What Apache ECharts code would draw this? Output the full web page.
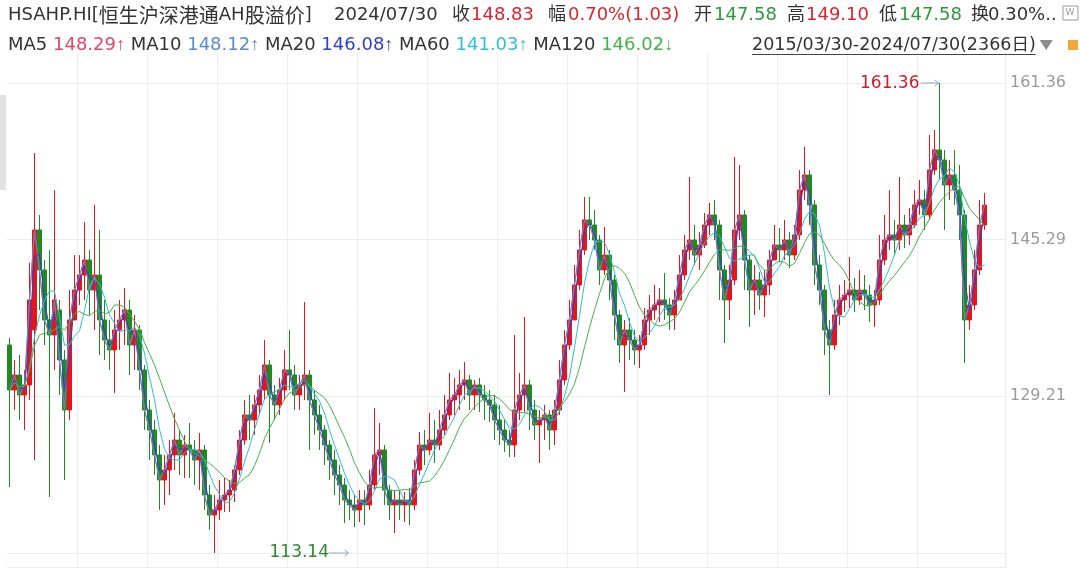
<!DOCTYPE html>
<html><head><meta charset="utf-8">
<script src="https://cdn.jsdelivr.net/npm/echarts@6/dist/echarts.min.js"></script>
<style>html,body{margin:0;padding:0;background:#fff}#c{width:1080px;height:568px}</style>
</head><body><div id="c"></div><script>
// Each candle summarises ~12 trading days of the 2366-day period
const opens = [134.48,129.86,131.40,129.35,130.38,136.02,146.28,142.18,137.05,135.51,138.07,132.94,127.81,137.05,140.12,141.66,143.20,140.12,141.66,137.05,134.99,133.97,136.02,137.05,138.07,134.48,136.02,131.92,127.81,125.76,123.20,120.63,121.66,123.20,124.73,123.20,124.22,123.71,122.68,123.71,119.09,117.04,117.55,118.58,119.09,119.60,121.66,124.73,127.30,126.79,128.33,129.86,132.43,129.35,128.33,129.86,131.92,131.40,129.35,130.38,131.40,128.84,127.30,125.76,124.22,122.68,121.14,120.12,118.58,118.07,117.55,118.58,118.07,120.12,123.20,123.71,119.60,118.07,118.58,118.07,118.58,118.07,121.66,124.22,123.71,124.73,124.22,125.76,127.30,128.84,129.35,130.38,130.89,129.35,130.38,129.35,128.84,128.33,126.79,125.76,124.73,124.22,127.81,129.35,130.38,127.81,126.27,126.79,127.30,125.76,127.81,130.89,134.48,137.05,140.64,144.23,147.31,146.79,145.25,142.18,143.71,141.15,137.56,134.48,136.02,134.99,133.97,134.48,137.05,138.07,138.59,139.10,138.59,137.56,139.10,141.66,144.23,145.25,143.71,144.74,146.79,147.82,146.79,142.18,139.10,141.15,146.28,147.82,143.20,140.12,141.15,139.61,140.64,143.20,144.74,144.23,145.25,143.71,145.77,150.38,151.92,148.85,142.69,140.12,136.02,134.48,137.56,139.10,139.61,140.12,139.10,140.12,139.61,138.59,139.10,143.20,145.25,145.77,145.25,146.79,145.77,146.79,148.85,149.36,147.82,152.44,154.49,153.46,150.90,151.92,150.38,147.82,137.05,138.59,142.18,146.79];
const closes = [129.86,131.40,129.35,130.38,139.10,146.28,142.18,137.05,135.51,139.10,132.94,127.81,137.05,140.12,141.66,143.20,140.12,141.66,137.05,134.99,133.97,136.02,137.05,138.07,134.48,136.02,131.92,127.81,125.76,123.20,120.63,121.66,123.20,124.73,123.20,124.22,123.71,122.68,123.71,119.09,117.04,117.55,118.58,119.09,119.60,121.66,124.73,127.30,126.79,128.33,129.86,132.43,129.35,128.33,129.86,131.92,131.40,129.35,130.38,131.40,128.84,127.30,125.76,124.22,122.68,121.14,120.12,118.58,118.07,117.55,118.58,118.07,120.12,123.20,123.71,119.60,118.07,118.58,118.07,118.58,118.07,121.66,124.22,123.71,124.73,124.22,125.76,127.30,128.84,129.35,130.38,130.89,129.35,130.38,129.35,128.84,128.33,126.79,125.76,124.73,124.22,127.81,129.35,130.38,127.81,126.27,126.79,127.30,125.76,127.81,130.89,134.48,137.05,140.64,144.23,147.31,146.79,145.25,142.18,143.71,141.15,137.56,134.48,136.02,134.99,133.97,134.48,137.05,138.07,138.59,139.10,138.59,137.56,139.10,141.66,144.23,145.25,143.71,144.74,146.79,147.82,146.79,142.18,139.10,141.15,146.28,147.82,143.20,140.12,141.15,139.61,140.64,143.20,144.74,144.23,145.25,143.71,145.77,150.38,151.92,148.85,142.69,140.12,136.02,134.48,137.56,139.10,139.61,140.12,139.10,140.12,139.61,138.59,139.10,143.20,145.25,145.77,145.25,146.79,145.77,146.79,148.85,149.36,147.82,152.44,154.49,153.46,150.90,151.92,150.38,147.82,137.05,138.59,142.18,146.79,148.83];
const lows = [119.91,127.81,126.79,125.76,128.84,122.68,138.07,134.48,118.89,131.92,129.35,120.63,126.79,137.05,138.59,139.10,137.56,136.02,133.46,132.94,131.92,129.56,133.97,134.48,131.40,131.92,129.86,125.76,122.68,121.14,117.55,118.07,119.09,121.66,121.14,120.84,120.84,120.12,119.60,117.55,115.50,113.14,116.53,117.35,117.35,118.37,121.14,124.22,124.73,125.25,127.30,128.84,124.43,126.79,127.30,128.84,129.86,127.81,127.81,128.84,123.71,125.25,123.71,122.17,120.63,119.09,118.07,116.22,116.53,115.81,116.32,116.01,117.55,119.60,121.14,118.07,116.53,115.19,116.53,116.32,116.01,117.55,121.14,122.17,123.20,122.38,123.71,125.25,126.79,127.30,127.81,128.84,127.81,127.81,127.61,126.79,126.58,124.73,124.22,123.50,122.99,122.99,126.79,127.61,125.76,124.73,122.38,124.73,123.71,124.22,127.30,130.38,133.97,137.05,140.12,143.71,145.25,144.23,140.64,141.66,139.10,134.99,132.64,129.66,132.94,132.43,132.12,133.97,135.51,137.05,136.84,137.05,136.02,136.02,139.10,141.15,143.20,142.69,142.18,144.43,145.77,145.25,139.10,134.69,137.05,140.64,145.25,140.12,136.33,137.56,138.07,137.35,139.61,143.20,143.00,143.20,142.38,143.20,145.25,149.36,146.79,140.64,138.59,133.46,129.35,133.97,136.53,137.87,138.28,137.87,138.59,138.07,136.84,136.33,138.59,142.69,144.23,143.71,144.23,144.43,144.74,146.49,147.82,146.28,147.31,151.92,151.41,146.28,149.36,148.85,145.25,132.64,136.02,138.07,141.66,146.28];
const highs = [135.20,132.94,133.46,131.92,142.90,154.18,147.82,143.20,144.23,150.38,139.10,133.97,140.12,143.71,143.71,147.10,144.23,148.85,146.28,139.10,137.05,138.07,139.10,140.33,139.10,137.56,136.53,132.43,128.84,126.79,124.22,123.20,124.73,127.51,125.76,125.25,126.48,124.73,125.45,124.22,120.12,119.09,120.63,120.84,120.63,122.17,125.76,128.84,129.35,129.35,131.40,134.99,132.94,130.38,131.10,133.97,136.02,132.43,131.40,138.89,131.92,129.86,128.33,126.27,124.73,123.71,122.17,120.84,119.60,119.09,119.60,119.60,121.66,128.02,126.48,124.22,120.12,119.60,119.60,119.40,119.81,122.68,125.56,125.76,127.51,126.79,127.81,129.35,131.61,131.10,131.92,132.74,131.40,130.89,131.10,130.38,129.86,129.35,128.33,126.79,125.76,135.51,131.61,137.35,130.89,128.84,127.81,128.33,127.81,128.84,132.94,136.02,139.10,142.69,146.28,149.67,149.67,148.33,145.77,146.59,144.23,141.66,138.07,137.05,137.25,136.02,135.51,138.28,139.61,140.64,140.33,141.87,139.30,140.12,143.71,145.77,151.72,146.79,146.07,148.02,149.05,149.36,147.31,142.69,142.69,153.77,152.95,148.33,143.71,142.69,141.97,142.18,144.23,146.79,146.49,147.31,146.07,146.79,152.44,154.80,152.44,149.36,143.71,140.64,137.05,139.10,140.64,141.15,143.51,141.36,142.18,141.66,140.64,140.12,145.77,147.82,150.38,147.31,151.72,147.82,148.54,150.38,151.41,150.38,156.03,156.54,161.36,154.49,153.46,154.49,152.95,148.33,140.64,144.23,149.36,150.08];

const totalDays = 2366;
const yMin = 113.14, yMax = 161.36;          // tick labels 113.14 / 129.21 / 145.29 / 161.36
const maNames = ['MA5','MA10','MA20','MA60','MA120'];
const maDays = [5,10,20,60,120];
const maColors = ['#e2466a','#5b8cc2','#2f3fd0','#2fbfcf','#45b24a'];
const maLegendValues = ['148.29','148.12','146.08','141.03','146.02'];
const maLegendArrows = ['\u2191','\u2191','\u2191','\u2191','\u2193'];
const headerDate = '2024/07/30';
const headerItems = [['收','148.83','up'],['幅','0.70%(1.03)','up'],['开','147.58','down'],['高','149.10','up'],['低','147.58','down'],['换','0.30%..','flat']];
const periodLabel = '2015/03/30-2024/07/30(2366日)';

const UP = '#e8141c', DOWN = '#1f8a24';
const chart = echarts.init(document.getElementById('c'), null, {renderer:'canvas'});

const candleData = opens.map((o,i)=>[i, o, closes[i], lows[i], highs[i]]);
const daysPerCandle = totalDays / closes.length;
function movingAverage(nDays){
  const w = nDays / daysPerCandle;
  return closes.map((_, i) => {
    let sum=0, wt=0, rem=w;
    for (let k=i; k>=0 && rem>0; k--){ const f=Math.min(1,rem); sum+=closes[k]*f; wt+=f; rem-=f; }
    return [i, +(sum/wt).toFixed(2)];
  });
}

const series = [{
  type:'candlestick', data: candleData,
  barWidth:'72%',
  itemStyle:{color:UP, color0:DOWN, borderColor:UP, borderColor0:DOWN, borderWidth:1},
  silent:true
}];
maDays.forEach((d,k)=>{
  series.push({type:'line', name:maNames[k], data: movingAverage(d), showSymbol:false, symbol:'none',
    lineStyle:{width:1, color:maColors[k]}, itemStyle:{color:maColors[k]}, z:3+k*0.1, silent:true});
});

const FONT = '"DejaVu Sans","Noto Sans CJK SC",sans-serif';
chart.setOption({
  animation:false,
  backgroundColor:'#fff',
  grid:[{left:7, top:83, width:998, height:470, outerBoundsMode:'none'}],
  xAxis:[{type:'value', min:-0.5, max:199.1, show:false}],
  yAxis:[{type:'value', position:'right', min:yMin, max:yMax, interval:(yMax-yMin)/3,
    axisLine:{show:false}, axisTick:{show:false},
    splitLine:{show:true, lineStyle:{color:'#ebebeb', width:1}},
    axisLabel:{margin:5, color:'#9a9a9a', fontSize:16, fontFamily:FONT,
      formatter:v => Math.abs(v-yMin)<1e-6 ? '' : v.toFixed(2)}}],
  series
});

const g = [];
for (let k=0;k<=12;k++){
  const x = 77.7 + 70*k;
  g.push({type:'line', shape:{x1:x,y1:53,x2:x,y2:568}, style:{stroke:'#ececec', lineWidth:1}, z:0, silent:true});
}
g.push({type:'line', shape:{x1:1005.5,y1:53,x2:1005.5,y2:568}, style:{stroke:'#ececec', lineWidth:1}, z:0});
g.push({type:'line', shape:{x1:7,y1:567.5,x2:1005,y2:567.5}, style:{stroke:'#ececec', lineWidth:1}, z:0});
g.push({type:'rect', shape:{x:0,y:95,width:6,height:95}, style:{fill:'#e2e2e2'}, z:0});

function txt(x,y,s,color,size,cjkSize){
  size = size||18;
  const rich = {
    a:{font:size+'px "DejaVu Sans"', fill:color},
    c:{font:(cjkSize||size)+'px "Noto Sans CJK SC"', fill:color}
  };
  g.push({type:'text', x, y, style:{text:s, fill:color, font:size+'px '+FONT, verticalAlign:'middle', align:'left', rich}, z:10, silent:true});
}
const RED='#d9262e', GREEN='#2c9a3a', DARK='#333333';
txt(8,15,'{a|HSAHP.HI[}{c|恒生沪深港通}{a|AH}{c|股溢价}{a|]}',DARK,18,20);
txt(334,15,headerDate,DARK,18);
const hx = [[452,471],[548,568],[694,714],[787,806],[879,899],[971,988]];
headerItems.forEach((it,k)=>{
  txt(hx[k][0],15,it[0],DARK,18);
  txt(hx[k][1],15,it[1], it[2]==='up'?RED:(it[2]==='down'?GREEN:DARK),18);
});
let row2 = '';
maNames.forEach((n,k)=>{
  row2 += '{d|'+n+' }{m'+k+'|'+maLegendValues[k]+'}{r'+k+'|'+maLegendArrows[k]+'}' + (k<4?'{d| }':'');
});
const row2Rich = {d:{font:'18px "DejaVu Sans"', fill:DARK}};
maColors.forEach((c,k)=>{
  row2Rich['m'+k] = {font:'18px "DejaVu Sans"', fill:c};
  row2Rich['r'+k] = {font:'18px "Liberation Sans","DejaVu Sans"', fill:c};
});
g.push({type:'text', x:8, y:45, style:{text:row2, font:'18px '+FONT, verticalAlign:'middle', align:'left', rich:row2Rich}, z:10, silent:true});

const periodFont = '17.5px '+FONT;
const mctx = document.createElement('canvas').getContext('2d');
mctx.font = periodFont;
const pw = mctx.measureText(periodLabel).width;
g.push({type:'text', x:752, y:45, style:{text:periodLabel, fill:DARK, font:periodFont, verticalAlign:'middle', align:'left'}, z:10, silent:true});
g.push({type:'line', shape:{x1:752,y1:54.5,x2:752+pw,y2:54.5}, style:{stroke:'#444', lineWidth:1}, z:10});
const tx = 752+pw+4;
g.push({type:'polygon', shape:{points:[[tx,40],[tx+13,40],[tx+6.5,50]]}, style:{fill:'#8c8c8c'}, z:10});
g.push({type:'rect', shape:{x:1063,y:6,width:15,height:14}, style:{fill:'#fff', stroke:'#9a9a9a', lineWidth:1}, z:10});
g.push({type:'text', x:1065.5, y:13, style:{text:'W', fill:'#9a9a9a', font:'9px '+FONT, verticalAlign:'middle'}, z:11});
g.push({type:'rect', shape:{x:1068,y:40,width:10,height:10}, style:{fill:'#f3a73b'}, z:10});

let hiI=0, loI=0;
highs.forEach((v,i)=>{ if(v>highs[hiI]) hiI=i; });
lows.forEach((v,i)=>{ if(v<lows[loI]) loI=i; });
const pHi = chart.convertToPixel({gridIndex:0}, [hiI, highs[hiI]]);
const pLo = chart.convertToPixel({gridIndex:0}, [loI, lows[loI]]);
const ARW = '#8eaec4';
function arrow(x1,x2,y){
  g.push({type:'line', shape:{x1,y1:y,x2,y2:y}, style:{stroke:ARW, lineWidth:1}, z:10});
  g.push({type:'polyline', shape:{points:[[x2-4,y-3],[x2,y],[x2-4,y+3]]}, style:{stroke:ARW, lineWidth:1, fill:null}, z:10});
}
g.push({type:'text', x:pHi[0]-20, y:pHi[1]+1, style:{text:highs[hiI].toFixed(2), fill:'#c8202c', font:'17px '+FONT, verticalAlign:'middle', align:'right'}, z:10});
arrow(pHi[0]-19, pHi[0]-1, pHi[1]);
g.push({type:'text', x:pLo[0]+55, y:pLo[1], style:{text:lows[loI].toFixed(2), fill:'#2a8a2e', font:'17px '+FONT, verticalAlign:'middle', align:'left'}, z:10});
arrow(pLo[0]+114, pLo[0]+134, pLo[1]);

chart.setOption({graphic:{elements:g}});
</script></body></html>
